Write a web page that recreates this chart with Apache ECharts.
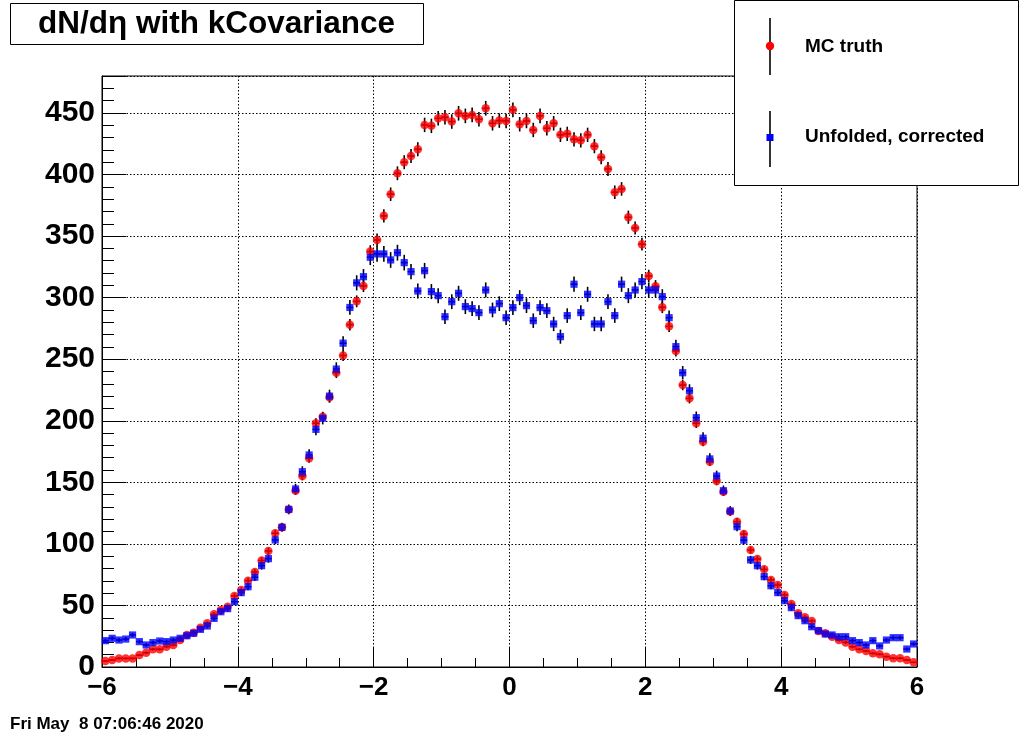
<!DOCTYPE html>
<html>
<head>
<meta charset="utf-8">
<script src="https://cdn.jsdelivr.net/npm/echarts@6/dist/echarts.min.js"></script>
<style>
html,body{margin:0;padding:0;background:#fff;}
#chart{width:1020px;height:740px;}
</style>
</head>
<body>
<div id="chart"></div>
<script>
// Histogram binning: 120 bins from -6 to 6
var binLow = -6, binWidth = 0.1;

// MC truth (red circles), per bin
var mcTruth = [
  4.9, 5.7, 7, 7, 7, 9.7, 11.6, 14.4, 14.4, 16.5,
  17.9, 21.9, 26, 27.9, 31.9, 35.5, 42.8, 46.3, 49, 57.7,
  62.5, 70.1, 77.2, 86.5, 94.2, 108.6, 113.5, 128, 143.2, 155.1,
  169.5, 198, 203.3, 219, 239, 253, 278, 297, 309.5, 337.4,
  346.8, 366.4, 384, 401, 410, 415, 420.5, 440.3, 439.5, 445.7,
  446.5, 443, 449.7, 447.6, 448.4, 444.9, 453.8, 441.6, 443.8, 443.5,
  452.5, 440.8, 443.5, 436.2, 447.6, 437.6, 441.6, 432.2, 433, 428.6,
  427.8, 432.2, 423, 414, 404.5, 385.6, 388.3, 365.3, 356.6, 343.4,
  317.6, 309.3, 292.2, 276.7, 256.7, 229, 218.2, 198, 183, 166.8,
  151.1, 142.4, 126.2, 118, 108, 95, 87.7, 79.3, 70.7, 66.6,
  58.5, 51.2, 43.6, 40.4, 37.4, 29.2, 27.4, 24.6, 21.9, 20,
  16.5, 14.4, 13, 11.1, 10.3, 8.4, 7.1, 7.1, 5.7, 3.8
];

// Unfolded, corrected (blue squares), per bin
var unfolded = [
  21.4, 23.3, 21.9, 22.7, 26, 20.6, 17.9, 19.8, 21.1, 20.6,
  21.9, 23.3, 25.4, 27.4, 30.6, 33.3, 39.5, 44.9, 47.4, 53,
  60.4, 65.2, 72.9, 82.3, 88, 103.2, 113.5, 128, 144.6, 158.6,
  172.2, 193, 202, 220, 242, 263, 292, 312, 317, 332.8,
  335.5, 335.5, 330.6, 336.5, 328.4, 321.1, 305.4, 321.9, 304.9, 301.6,
  284.5, 296.7, 303.5, 292.7, 291.1, 287.8, 306.2, 290, 295.1, 283.7,
  291.9, 300, 293.5, 281.3, 291.9, 289.4, 278.6, 268.3, 285.4, 310.9,
  287.8, 302.7, 278.6, 278.6, 296.7, 285.4, 310.9, 301.6, 306.2, 313,
  306.2, 306.2, 300.8, 283.7, 260.2, 239, 224.4, 202.5, 185.8, 169,
  155.1, 143.2, 126.7, 114, 103, 87, 82.3, 73.4, 66, 60.4,
  53.9, 48.2, 41.7, 37.6, 32.7, 29.5, 26.8, 26, 24.6, 24.6,
  21.4, 19.8, 17.9, 21.4, 17.1, 21.9, 23.8, 23.8, 14.6, 18.7
];

// Axis tick values
var xTicks = [-6, -4, -2, 0, 2, 4, 6];
var yTicks = [0, 50, 100, 150, 200, 250, 300, 350, 400, 450];

var seriesNames = ['MC truth', 'Unfolded, corrected'];
var titleText = 'dN/d\u03b7 with kCovariance';
var dateText = 'Fri May  8 07:06:46 2020';

// relative error-bar scale (statistical, ~ sqrt(N))
var mcErrScale = 0.28, unfErrScale = 0.35;

function binCenter(i) { return +(binLow + binWidth * (i + 0.5)).toFixed(3); }

function buildData(vals, scale) {
  return vals.map(function (v, i) {
    return [binCenter(i), v, scale * Math.sqrt(v)];
  });
}

var mcData = buildData(mcTruth, mcErrScale);
var unfData = buildData(unfolded, unfErrScale);

function errRender(params, api) {
  var x = api.value(0), y = api.value(1), e = api.value(2);
  var c = api.coord([x, y]);
  var t = api.coord([x, y + e]);
  var b = api.coord([x, y - e]);
  var l = api.coord([x - binWidth / 2, y]);
  var r = api.coord([x + binWidth / 2, y]);
  return {
    type: 'group',
    children: [
      { type: 'line', shape: { x1: c[0], y1: t[1], x2: c[0], y2: b[1] }, style: { stroke: '#000', lineWidth: 1.6 } },
      { type: 'line', shape: { x1: l[0], y1: c[1], x2: r[0], y2: c[1] }, style: { stroke: '#000', lineWidth: 1.6 } }
    ]
  };
}

var FONT = '"Liberation Sans", Arial, Helvetica, sans-serif';

var chart = echarts.init(document.getElementById('chart'), null, { renderer: 'canvas' });

var option = {
  backgroundColor: '#ffffff',
  animation: false,
  grid: {
    left: 102, right: 103, top: 76, bottom: 73,
    show: true, borderColor: '#000', borderWidth: 1, backgroundColor: 'transparent'
  },
  xAxis: {
    type: 'value', min: xTicks[0], max: xTicks[xTicks.length - 1], interval: 2,
    axisLine: { show: true, onZero: false, lineStyle: { color: '#000', width: 1 } },
    axisTick: { show: true, inside: true, length: 19, lineStyle: { color: '#000', width: 1 } },
    minorTick: { show: true, splitNumber: 4, length: 9, lineStyle: { color: '#000', width: 1 } },
    splitLine: { show: true, lineStyle: { color: '#000', width: 1, type: [1.5, 2] } },
    axisLabel: {
      color: '#000', fontFamily: FONT, fontWeight: 'bold', fontSize: 26, margin: 8,
      formatter: function (v) { return v < 0 ? '\u2212' + Math.abs(v) : String(v); }
    }
  },
  yAxis: {
    type: 'value', min: 0, max: 480, interval: 50,
    axisLine: { show: true, onZero: false, lineStyle: { color: '#000', width: 1 } },
    axisTick: { show: true, inside: true, length: 24, lineStyle: { color: '#000', width: 1 } },
    minorTick: { show: true, splitNumber: 5, length: 12, lineStyle: { color: '#000', width: 1 } },
    splitLine: { show: true, lineStyle: { color: '#000', width: 1, type: [1.5, 2] } },
    axisLabel: {
      color: '#000', fontFamily: FONT, fontWeight: 'bold', fontSize: 30, margin: 7,
      formatter: function (v) { return yTicks.indexOf(v) >= 0 ? String(v) : ''; }
    }
  },
  series: [
    { type: 'custom', name: seriesNames[0] + ' err', renderItem: errRender, data: mcData, encode: { x: 0, y: 1 }, silent: true },
    { type: 'scatter', name: seriesNames[0], data: mcData.map(function (d) { return [d[0], d[1]]; }),
      symbol: 'circle', symbolSize: 8.5, itemStyle: { color: '#ff0000' } },
    { type: 'custom', name: seriesNames[1] + ' err', renderItem: errRender, data: unfData, encode: { x: 0, y: 1 }, silent: true },
    { type: 'scatter', name: seriesNames[1], data: unfData.map(function (d) { return [d[0], d[1]]; }),
      symbol: 'rect', symbolSize: 7.2, itemStyle: { color: '#0000ff' } }
  ],
  graphic: [
    // title box
    { type: 'rect', left: 10, top: 3, shape: { width: 413, height: 41 },
      style: { fill: '#fff', stroke: '#000', lineWidth: 1 }, z: 10 },
    { type: 'text', x: 216.5, y: 24, z: 11,
      style: { text: titleText, font: 'bold 31.5px ' + FONT, fill: '#000', align: 'center', verticalAlign: 'middle' } },
    // legend box
    { type: 'rect', left: 734, top: 0, shape: { width: 284, height: 185 },
      style: { fill: '#fff', stroke: '#000', lineWidth: 1 }, z: 10 },
    { type: 'line', shape: { x1: 770, y1: 18, x2: 770, y2: 75 }, style: { stroke: '#000', lineWidth: 1.6 }, z: 11 },
    { type: 'circle', shape: { cx: 770, cy: 46, r: 4.2 }, style: { fill: '#ff0000' }, z: 12 },
    { type: 'text', x: 805, y: 47, z: 11,
      style: { text: seriesNames[0], font: 'bold 19px ' + FONT, fill: '#000', verticalAlign: 'middle' } },
    { type: 'line', shape: { x1: 770, y1: 111, x2: 770, y2: 167 }, style: { stroke: '#000', lineWidth: 1.6 }, z: 11 },
    { type: 'rect', shape: { x: 766.5, y: 134, width: 7, height: 7 }, style: { fill: '#0000ff' }, z: 12 },
    { type: 'text', x: 805, y: 137, z: 11,
      style: { text: seriesNames[1], font: 'bold 19px ' + FONT, fill: '#000', verticalAlign: 'middle' } },
    // date stamp
    { type: 'text', x: 10, y: 724, z: 11,
      style: { text: dateText, font: 'bold 17px ' + FONT, fill: '#000', verticalAlign: 'middle' } }
  ]
};

chart.setOption(option);
</script>
</body>
</html>
